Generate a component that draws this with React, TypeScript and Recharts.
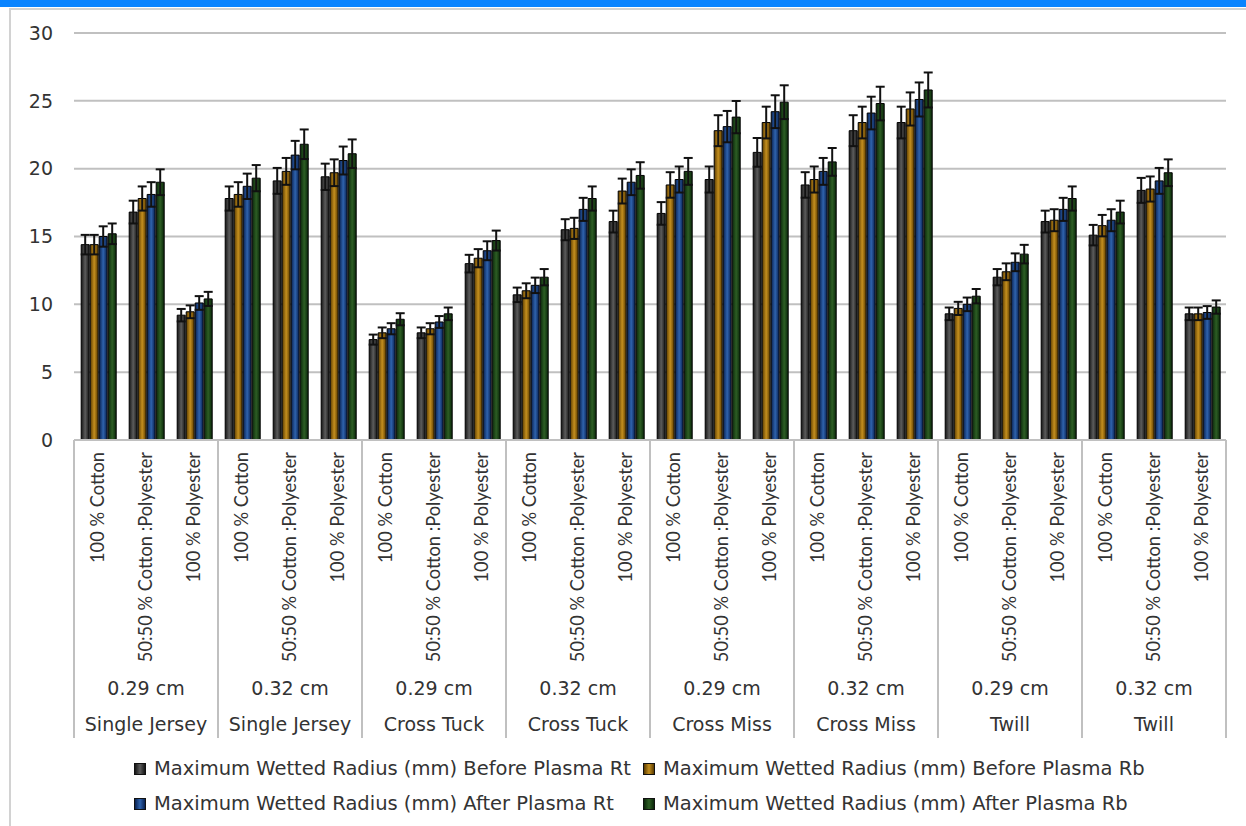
import { BarChart, Bar, XAxis, YAxis, CartesianGrid, ErrorBar, Legend } from "recharts";

// fibre blend (innermost axis level), loop length, knit structure
const FIBERS = ["100 % Cotton", "50:50 % Cotton :Polyester", "100 % Polyester"];
const SPACINGS = ["0.29 cm", "0.32 cm", "0.29 cm", "0.32 cm", "0.29 cm", "0.32 cm", "0.29 cm", "0.32 cm"];
const STRUCTURES = ["Single Jersey", "Single Jersey", "Cross Tuck", "Cross Tuck", "Cross Miss", "Cross Miss", "Twill", "Twill"];

// maximum wetted radius (mm)
const BEFORE_RT = [14.4, 16.8, 9.2, 17.8, 19.1, 19.4, 7.4, 7.9, 13.0, 10.7, 15.5, 16.1, 16.7, 19.2, 21.2, 18.8, 22.8, 23.4, 9.3, 12.0, 16.1, 15.1, 18.4, 9.3];
const BEFORE_RB = [14.4, 17.8, 9.45, 18.1, 19.8, 19.7, 7.9, 8.2, 13.4, 11.0, 15.6, 18.35, 18.8, 22.8, 23.4, 19.2, 23.4, 24.4, 9.7, 12.4, 16.2, 15.8, 18.5, 9.3];
const AFTER_RT = [15.0, 18.1, 10.1, 18.7, 21.0, 20.6, 8.2, 8.7, 13.95, 11.4, 17.0, 19.0, 19.2, 23.1, 24.2, 19.8, 24.1, 25.1, 10.0, 13.1, 17.0, 16.2, 19.1, 9.4];
const AFTER_RB = [15.2, 19.0, 10.4, 19.3, 21.8, 21.1, 8.9, 9.3, 14.7, 12.0, 17.8, 19.5, 19.8, 23.8, 24.9, 20.5, 24.8, 25.8, 10.6, 13.7, 17.8, 16.8, 19.7, 9.8];

const Y_TICKS = [0, 5, 10, 15, 20, 25, 30];

// percentage error bars
const ERROR_PCT = 0.05;

const SERIES = [
  { key: "beforeRt", name: "Maximum Wetted Radius (mm) Before Plasma Rt", edge: "#161616", mid: "#5c5c5c" },
  { key: "beforeRb", name: "Maximum Wetted Radius (mm) Before Plasma Rb", edge: "#5a3b00", mid: "#c48f1e" },
  { key: "afterRt", name: "Maximum Wetted Radius (mm) After Plasma Rt", edge: "#08204f", mid: "#2f63ad" },
  { key: "afterRb", name: "Maximum Wetted Radius (mm) After Plasma Rb", edge: "#0a260a", mid: "#2d5e24" },
];

const rows = STRUCTURES.flatMap((structure, g) =>
  FIBERS.map((fiber, f) => {
    const i = g * FIBERS.length + f;
    return {
      fiber,
      spacing: SPACINGS[g],
      structure,
      beforeRt: BEFORE_RT[i],
      beforeRb: BEFORE_RB[i],
      afterRt: AFTER_RT[i],
      afterRb: AFTER_RB[i],
    };
  })
);

const W = 1246;
const H = 826;
const PLOT_LEFT = 74;
const PLOT_RIGHT = 20;
const BAND = (W - PLOT_LEFT - PLOT_RIGHT) / rows.length;
const AXIS_H = 298;
const LEGEND_H = 88;

const LABEL_FONT = "Lato, sans-serif";
const WIDE_FONT = "'DejaVu Sans', sans-serif";
const TEXT = "#333";
const LINE = "#c0c0c0";

const CategoryTick = (props: any) => {
  const { x, y, index } = props;
  const row = rows[index];
  if (!row) return null;
  const pos = index % FIBERS.length;
  return (
    <g>
      {pos === 0 && <line x1={x - BAND / 2} x2={x - BAND / 2} y1={y} y2={y + AXIS_H} stroke={LINE} strokeWidth={2} />}
      {index === rows.length - 1 && (
        <line x1={x + BAND / 2} x2={x + BAND / 2} y1={y} y2={y + AXIS_H} stroke={LINE} strokeWidth={2} />
      )}
      <text
        x={x}
        y={y + 12}
        transform={`rotate(-90, ${x}, ${y + 12})`}
        textAnchor="end"
        dy="0.35em"
        fontFamily={LABEL_FONT}
        fontSize={18.3}
        fill={TEXT}
      >
        {row.fiber}
      </text>
      {pos === 1 && (
        <>
          <text x={x} y={y + 248} textAnchor="middle" dy="0.35em" fontFamily={WIDE_FONT} fontSize={19} fill={TEXT}>
            {row.spacing}
          </text>
          <text x={x} y={y + 284} textAnchor="middle" dy="0.35em" fontFamily={WIDE_FONT} fontSize={19} fill={TEXT}>
            {row.structure}
          </text>
        </>
      )}
    </g>
  );
};

const renderLegend = () => (
  <div style={{ position: "relative", width: W, height: LEGEND_H, fontFamily: WIDE_FONT, fontSize: 19.5, color: TEXT }}>
    {SERIES.map((s, i) => (
      <div
        key={s.key}
        style={{
          position: "absolute",
          left: i % 2 === 0 ? 134 : 643,
          top: i < 2 ? 0 : 35,
          display: "flex",
          alignItems: "center",
          whiteSpace: "nowrap",
        }}
      >
        <span
          style={{
            display: "inline-block",
            width: 10,
            height: 10,
            marginRight: 8,
            border: "1px solid #111",
            background: `linear-gradient(to right, ${s.edge}, ${s.mid}, ${s.edge})`,
          }}
        />
        {s.name}
      </div>
    ))}
  </div>
);

export default function App() {
  return (
    <div style={{ position: "absolute", left: 0, top: 0, width: W, height: H, overflow: "hidden", background: "#fff" }}>
      <div style={{ position: "absolute", left: 0, top: 0, width: W, height: 7, background: "#0a84ff" }} />
      <div
        style={{
          position: "absolute",
          left: 9,
          top: 8,
          width: W + 40,
          height: H + 40,
          border: "2px solid #d2d2d2",
        }}
      />
      <div style={{ position: "absolute", left: 0, top: 0 }}>
        <BarChart
          width={W}
          height={H}
          data={rows}
          margin={{ top: 33, right: PLOT_RIGHT, left: 0, bottom: LEGEND_H }}
          barCategoryGap="15%"
          barGap={1}
        >
          <defs>
            {SERIES.map((s) => (
              <linearGradient key={s.key} id={`fill-${s.key}`} x1="0" y1="0" x2="1" y2="0">
                <stop offset="0%" stopColor={s.edge} />
                <stop offset="50%" stopColor={s.mid} />
                <stop offset="100%" stopColor={s.edge} />
              </linearGradient>
            ))}
          </defs>
          <CartesianGrid vertical={false} stroke={LINE} strokeWidth={2} />
          <XAxis
            dataKey="fiber"
            interval={0}
            height={AXIS_H}
            tickLine={false}
            tickSize={0}
            tickMargin={0}
            axisLine={{ stroke: LINE, strokeWidth: 2 }}
            tick={<CategoryTick />}
          />
          <YAxis
            domain={[0, 30]}
            ticks={Y_TICKS}
            width={PLOT_LEFT}
            axisLine={false}
            tickLine={false}
            tickSize={0}
            tickMargin={21}
            tick={{ fontFamily: WIDE_FONT, fontSize: 19, fill: TEXT }}
          />
          <Legend
            verticalAlign="middle"
            align="center"
            layout="horizontal"
            content={renderLegend}
            wrapperStyle={{ top: 757, left: 0, width: W }}
          />
          {SERIES.map((s) => (
            <Bar
              key={s.key}
              dataKey={s.key}
              name={s.name}
              fill={`url(#fill-${s.key})`}
              stroke="#000"
              strokeWidth={1}
              isAnimationActive={false}
            >
              <ErrorBar
                dataKey={(d: any) => d[s.key] * ERROR_PCT}
                width={4.5}
                stroke="#111"
                strokeWidth={2}
                direction="y"
              />
            </Bar>
          ))}
        </BarChart>
      </div>
    </div>
  );
}
